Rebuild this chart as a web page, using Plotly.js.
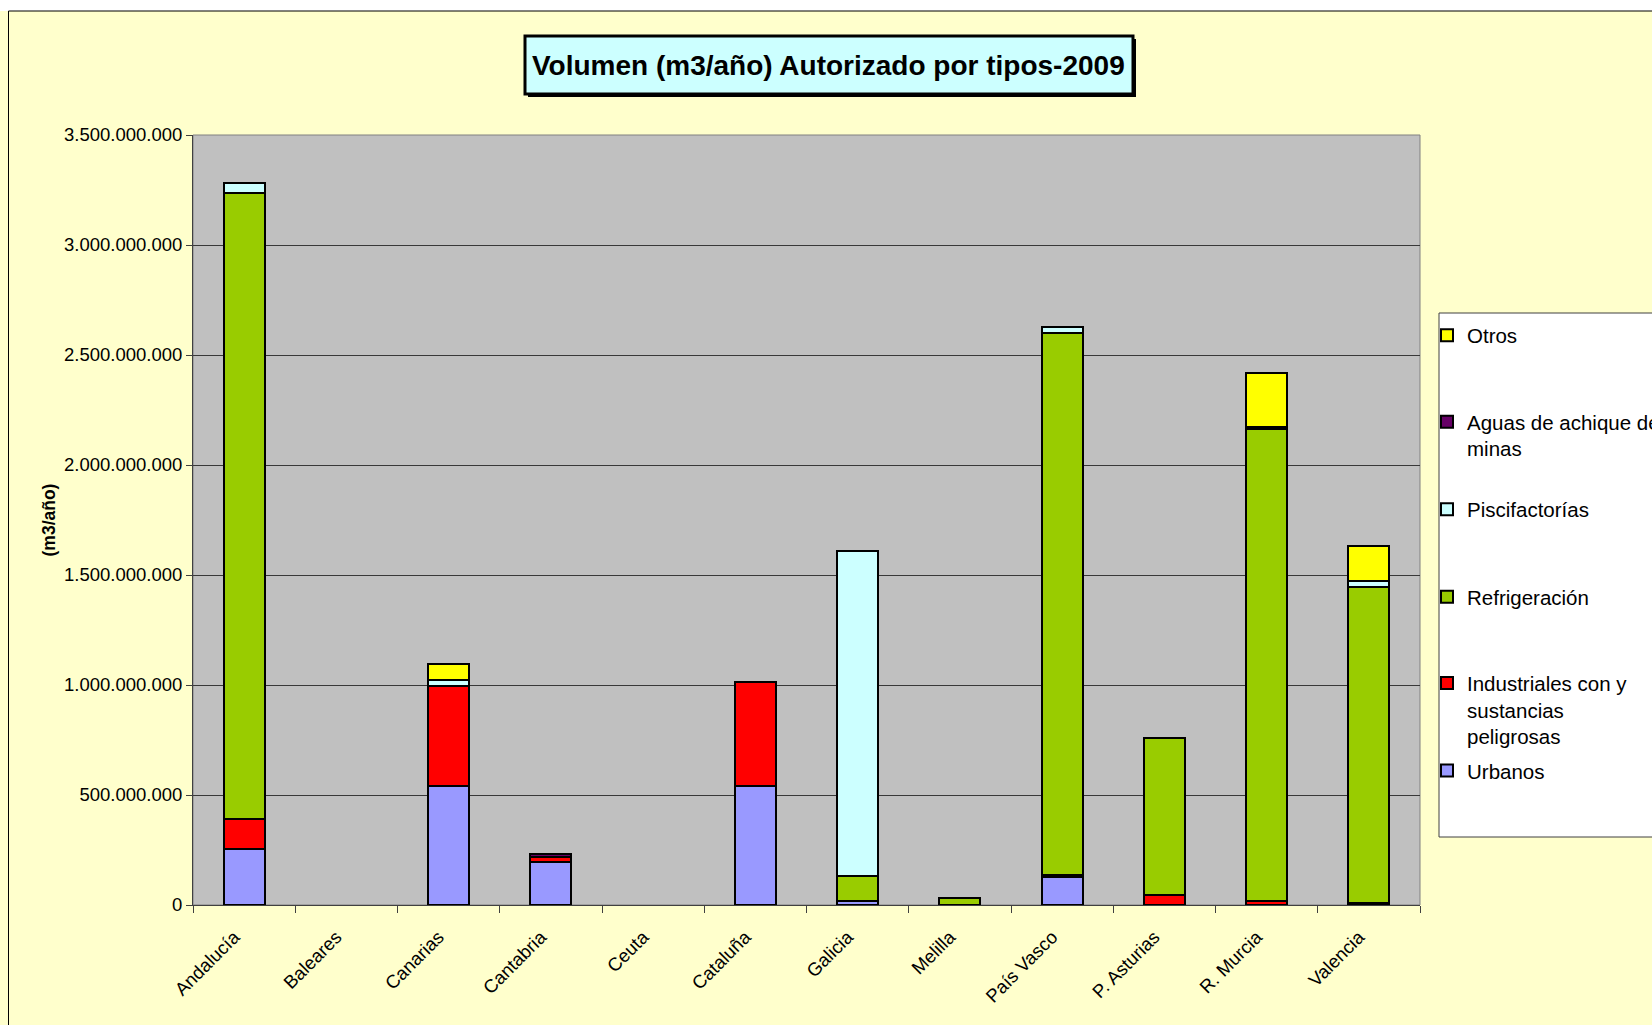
<!DOCTYPE html>
<html>
<head>
<meta charset="utf-8">
<script src="https://cdn.plot.ly/plotly-3.0.1.min.js"></script>
<style>
  html, body { margin: 0; padding: 0; background: #FFFFCC; }
  #chart { width: 1652px; height: 1025px; }
</style>
</head>
<body>
<div id="chart"></div>
<script>
// ---- Data (m3/año) ----
const categories = ['Andalucía', 'Baleares', 'Canarias', 'Cantabria', 'Ceuta', 'Cataluña',
                    'Galicia', 'Melilla', 'País Vasco', 'P. Asturias', 'R. Murcia', 'Valencia'];

const urbanos        = [256e6, 0, 541e6, 195e6, 0, 541e6, 20e6, 0, 126e6, 0, 0, 4e6];
const industriales   = [135e6, 0, 456e6, 22e6, 0, 471e6, 0, 0, 9e6, 45e6, 18e6, 6e6];
const refrigeracion  = [2847e6, 0, 0, 0, 0, 0, 112e6, 30e6, 2467e6, 715e6, 2147e6, 1437e6];
const piscifactorias = [43e6, 0, 28e6, 0, 0, 0, 1477e6, 0, 26e6, 0, 0, 24e6];
const aguasMinas     = [0, 0, 0, 17e6, 0, 0, 0, 0, 0, 0, 8e6, 0];
const otros          = [0, 0, 70e6, 0, 0, 0, 0, 0, 0, 0, 247e6, 159e6];

const seriesNames = ['Urbanos', 'Industriales con y<br>sustancias<br>peligrosas', 'Refrigeración',
                     'Piscifactorías', 'Aguas de achique de<br>minas', 'Otros'];
const yTickVals = [0, 5e8, 1e9, 1.5e9, 2e9, 2.5e9, 3e9, 3.5e9];

// ---- Styling ----
const FONT = '"Liberation Sans", Arial, sans-serif';
const seriesValues = [urbanos, industriales, refrigeracion, piscifactorias, aguasMinas, otros];
const seriesColors = ['#9999FF', '#FF0000', '#99CC00', '#CCFFFF', '#660066', '#FFFF00'];
const legendIds = ['legend6', 'legend5', 'legend4', 'legend3', 'legend2', 'legend'];
const legendTops = [750.7, 663.2, 576.8, 489.4, 401.9, 315.5]; // px from top

const W = 1652, H = 1025;
const L = 193, R = 1420, T = 135, B = 905;
const px = X => (X - L) / (R - L);
const py = Y => (B - Y) / (B - T);

const traces = seriesValues.map((vals, i) => ({
  type: 'bar',
  name: seriesNames[i],
  x: categories,
  y: vals.map(v => (v === 0 ? null : v)),
  legend: legendIds[i],
  marker: { color: seriesColors[i], line: { color: '#000000', width: 2 } },
  hovertemplate: '%{x}: %{y:,.0f}<extra></extra>'
}));

const layout = {
  width: W, height: H,
  paper_bgcolor: '#FFFFCC',
  plot_bgcolor: '#C0C0C0',
  separators: ',.',
  font: { family: FONT, color: '#000000' },
  margin: { l: L, r: W - R, t: T, b: H - B, autoexpand: false },
  barmode: 'stack',
  bargap: 0.6,
  xaxis: {
    type: 'category',
    range: [-0.5, 11.5],
    showgrid: false,
    tickson: 'boundaries',
    ticks: 'outside', ticklen: 7, tickcolor: '#404040', tickwidth: 1,
    showline: true, linecolor: '#404040', linewidth: 1,
    tickangle: -45,
    ticklabelstandoff: 13,
    ticklabelshift: -10,
    tickfont: { size: 18.5, family: FONT, color: '#000' },
    automargin: false
  },
  yaxis: {
    range: [0, 3.5e9],
    tickvals: yTickVals,
    tickformat: ',.0f',
    showgrid: true, gridcolor: '#383838', gridwidth: 1,
    zeroline: false,
    ticks: 'outside', ticklen: 6, tickcolor: '#404040',
    showline: true, linecolor: '#404040', linewidth: 1,
    tickfont: { size: 18.5, family: FONT, color: '#000' },
    title: { text: '<b>(m3/año)</b>', font: { size: 17.5, family: FONT, color: '#000' }, standoff: 3 },
    automargin: false
  },
  showlegend: true,
  shapes: [
    // white strip above chart area
    { type: 'rect', xref: 'paper', yref: 'paper', x0: px(-50), x1: px(1700), y0: py(11), y1: py(-30),
      fillcolor: '#FFFFFF', line: { width: 0 }, layer: 'below' },
    // chart area border
    { type: 'rect', xref: 'paper', yref: 'paper', x0: px(8.5), x1: px(1720), y0: py(1100), y1: py(11),
      fillcolor: 'rgba(0,0,0,0)', line: { color: '#000000', width: 1 }, layer: 'below' },
    // plot area border
    { type: 'rect', xref: 'paper', yref: 'paper', x0: 0, x1: 1, y0: 0, y1: 1,
      fillcolor: 'rgba(0,0,0,0)', line: { color: '#808080', width: 1 }, layer: 'below' },
    // legend box
    { type: 'rect', xref: 'paper', yref: 'paper', x0: px(1439), x1: px(1720), y0: py(837), y1: py(313),
      fillcolor: '#FFFFFF', line: { color: '#404040', width: 1 }, layer: 'below' },
    // title shadow
    { type: 'rect', xref: 'paper', yref: 'paper', x0: px(528), x1: px(1136), y0: py(97), y1: py(39),
      fillcolor: '#000000', line: { width: 0 }, layer: 'above' },
    // title box
    { type: 'rect', xref: 'paper', yref: 'paper', x0: px(525), x1: px(1133), y0: py(94), y1: py(36),
      fillcolor: '#CCFFFF', line: { color: '#000000', width: 3 }, layer: 'above' }
  ],
  annotations: [
    { xref: 'paper', yref: 'paper', x: px(829), y: py(65), xanchor: 'center', yanchor: 'middle',
      text: '<b>Volumen (m3/año) Autorizado por tipos-2009</b>', showarrow: false,
      font: { size: 28, family: FONT, color: '#000' } }
  ]
};

legendIds.forEach((id, i) => {
  layout[id] = {
    xref: 'container', yref: 'container',
    x: 1427 / W, y: 1 - legendTops[i] / H,
    xanchor: 'left', yanchor: 'top',
    valign: 'top',
    bgcolor: 'rgba(0,0,0,0)', borderwidth: 0,
    font: { size: 20.5, family: FONT, color: '#000' }
  };
});

Plotly.newPlot('chart', traces, layout, { displayModeBar: false, responsive: false });
</script>
</body>
</html>
